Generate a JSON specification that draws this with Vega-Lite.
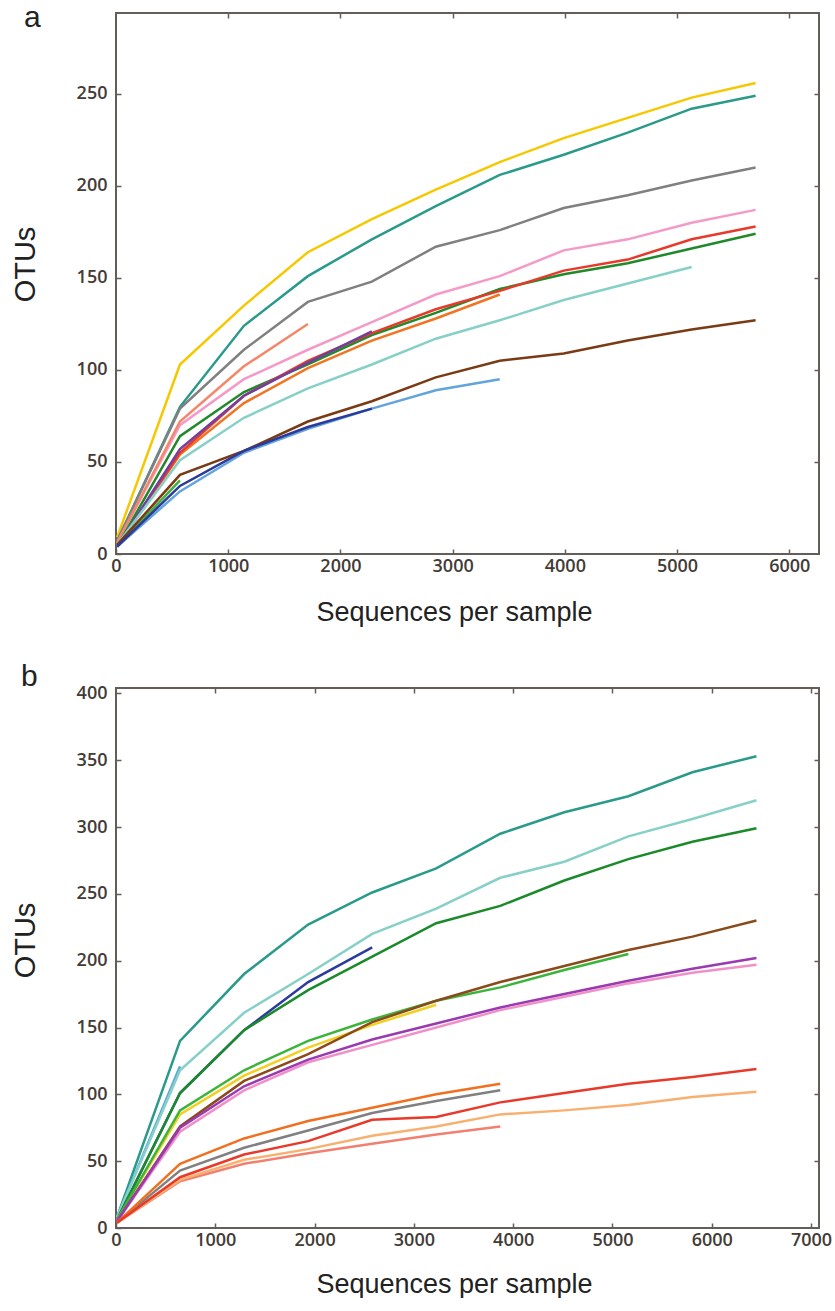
{
  "$schema": "https://vega.github.io/schema/vega-lite/v6.json",
  "padding": {"left": 10, "top": 2, "right": 0, "bottom": 0},
  "background": "white",
  "config": {
    "view": {"stroke": "#655d57", "strokeWidth": 2},
    "axis": {"domain": false, "grid": false, "tickColor": "#655d57", "tickWidth": 1.5, "tickSize": -5,
      "labelFont": "Open Sans", "labelFontSize": 18, "labelFontWeight": 600, "labelColor": "#433b36",
      "titleFont": "Liberation Sans", "titleFontSize": 27, "titleFontWeight": "normal", "titleColor": "#222222"},
    "title": {"font": "Liberation Sans", "fontSize": 30, "fontWeight": "normal", "color": "#222222"}
  },
  "datasets": {
    "a": [
      {"s":"yellow","x":10,"y":9},{"s":"yellow","x":570,"y":103},{"s":"yellow","x":1140,"y":135},{"s":"yellow","x":1710,"y":164},{"s":"yellow","x":2280,"y":182},{"s":"yellow","x":2850,"y":198},{"s":"yellow","x":3420,"y":213},{"s":"yellow","x":3990,"y":226},{"s":"yellow","x":4560,"y":237},{"s":"yellow","x":5130,"y":248},{"s":"yellow","x":5700,"y":256},
      {"s":"teal","x":10,"y":7},{"s":"teal","x":570,"y":80},{"s":"teal","x":1140,"y":124},{"s":"teal","x":1710,"y":151},{"s":"teal","x":2280,"y":171},{"s":"teal","x":2850,"y":189},{"s":"teal","x":3420,"y":206},{"s":"teal","x":3990,"y":217},{"s":"teal","x":4560,"y":229},{"s":"teal","x":5130,"y":242},{"s":"teal","x":5700,"y":249},
      {"s":"gray","x":10,"y":7},{"s":"gray","x":570,"y":79},{"s":"gray","x":1140,"y":111},{"s":"gray","x":1710,"y":137},{"s":"gray","x":2280,"y":148},{"s":"gray","x":2850,"y":167},{"s":"gray","x":3420,"y":176},{"s":"gray","x":3990,"y":188},{"s":"gray","x":4560,"y":195},{"s":"gray","x":5130,"y":203},{"s":"gray","x":5700,"y":210},
      {"s":"pink","x":10,"y":6},{"s":"pink","x":570,"y":70},{"s":"pink","x":1140,"y":95},{"s":"pink","x":1710,"y":111},{"s":"pink","x":2280,"y":126},{"s":"pink","x":2850,"y":141},{"s":"pink","x":3420,"y":151},{"s":"pink","x":3990,"y":165},{"s":"pink","x":4560,"y":171},{"s":"pink","x":5130,"y":180},{"s":"pink","x":5700,"y":187},
      {"s":"salmon","x":10,"y":6},{"s":"salmon","x":570,"y":72},{"s":"salmon","x":1140,"y":102},{"s":"salmon","x":1710,"y":125},
      {"s":"orange","x":10,"y":4},{"s":"orange","x":570,"y":54},{"s":"orange","x":1140,"y":82},{"s":"orange","x":1710,"y":101},{"s":"orange","x":2280,"y":116},{"s":"orange","x":2850,"y":128},{"s":"orange","x":3420,"y":141},
      {"s":"green","x":10,"y":4},{"s":"green","x":570,"y":64},{"s":"green","x":1140,"y":88},{"s":"green","x":1710,"y":103},{"s":"green","x":2280,"y":119},{"s":"green","x":2850,"y":131},{"s":"green","x":3420,"y":144},{"s":"green","x":3990,"y":152},{"s":"green","x":4560,"y":158},{"s":"green","x":5130,"y":166},{"s":"green","x":5700,"y":174},
      {"s":"red","x":10,"y":4},{"s":"red","x":570,"y":55},{"s":"red","x":1140,"y":86},{"s":"red","x":1710,"y":105},{"s":"red","x":2280,"y":120},{"s":"red","x":2850,"y":133},{"s":"red","x":3420,"y":143},{"s":"red","x":3990,"y":154},{"s":"red","x":4560,"y":160},{"s":"red","x":5130,"y":171},{"s":"red","x":5700,"y":178},
      {"s":"purple","x":10,"y":4},{"s":"purple","x":570,"y":57},{"s":"purple","x":1140,"y":86},{"s":"purple","x":1710,"y":104},{"s":"purple","x":2280,"y":121},
      {"s":"lightteal","x":10,"y":5},{"s":"lightteal","x":570,"y":51},{"s":"lightteal","x":1140,"y":74},{"s":"lightteal","x":1710,"y":90},{"s":"lightteal","x":2280,"y":103},{"s":"lightteal","x":2850,"y":117},{"s":"lightteal","x":3420,"y":127},{"s":"lightteal","x":3990,"y":138},{"s":"lightteal","x":4560,"y":147},{"s":"lightteal","x":5130,"y":156},
      {"s":"lightgreen","x":10,"y":4},{"s":"lightgreen","x":570,"y":40},
      {"s":"lightblue","x":10,"y":4},{"s":"lightblue","x":570,"y":34},{"s":"lightblue","x":1140,"y":55},{"s":"lightblue","x":1710,"y":68},{"s":"lightblue","x":2280,"y":79},{"s":"lightblue","x":2850,"y":89},{"s":"lightblue","x":3420,"y":95},
      {"s":"brown","x":10,"y":5},{"s":"brown","x":570,"y":43},{"s":"brown","x":1140,"y":56},{"s":"brown","x":1710,"y":72},{"s":"brown","x":2280,"y":83},{"s":"brown","x":2850,"y":96},{"s":"brown","x":3420,"y":105},{"s":"brown","x":3990,"y":109},{"s":"brown","x":4560,"y":116},{"s":"brown","x":5130,"y":122},{"s":"brown","x":5700,"y":127},
      {"s":"navy","x":10,"y":4},{"s":"navy","x":570,"y":37},{"s":"navy","x":1140,"y":56},{"s":"navy","x":1710,"y":69},{"s":"navy","x":2280,"y":79}
    ],
    "b": [
      {"s":"teal","x":10,"y":8},{"s":"teal","x":645,"y":140},{"s":"teal","x":1290,"y":190},{"s":"teal","x":1935,"y":227},{"s":"teal","x":2580,"y":251},{"s":"teal","x":3225,"y":269},{"s":"teal","x":3870,"y":295},{"s":"teal","x":4515,"y":311},{"s":"teal","x":5160,"y":323},{"s":"teal","x":5805,"y":341},{"s":"teal","x":6450,"y":353},
      {"s":"lightblue","x":10,"y":8},{"s":"lightblue","x":645,"y":121},
      {"s":"lightteal","x":10,"y":8},{"s":"lightteal","x":645,"y":118},{"s":"lightteal","x":1290,"y":161},{"s":"lightteal","x":1935,"y":190},{"s":"lightteal","x":2580,"y":220},{"s":"lightteal","x":3225,"y":239},{"s":"lightteal","x":3870,"y":262},{"s":"lightteal","x":4515,"y":274},{"s":"lightteal","x":5160,"y":293},{"s":"lightteal","x":5805,"y":306},{"s":"lightteal","x":6450,"y":320},
      {"s":"navy","x":10,"y":6},{"s":"navy","x":645,"y":101},{"s":"navy","x":1290,"y":148},{"s":"navy","x":1935,"y":184},{"s":"navy","x":2580,"y":210},
      {"s":"green","x":10,"y":6},{"s":"green","x":645,"y":101},{"s":"green","x":1290,"y":148},{"s":"green","x":1935,"y":178},{"s":"green","x":2580,"y":203},{"s":"green","x":3225,"y":228},{"s":"green","x":3870,"y":241},{"s":"green","x":4515,"y":260},{"s":"green","x":5160,"y":276},{"s":"green","x":5805,"y":289},{"s":"green","x":6450,"y":299},
      {"s":"yellow","x":10,"y":6},{"s":"yellow","x":645,"y":85},{"s":"yellow","x":1290,"y":114},{"s":"yellow","x":1935,"y":135},{"s":"yellow","x":2580,"y":152},{"s":"yellow","x":3225,"y":167},
      {"s":"lightgreen","x":10,"y":6},{"s":"lightgreen","x":645,"y":88},{"s":"lightgreen","x":1290,"y":118},{"s":"lightgreen","x":1935,"y":140},{"s":"lightgreen","x":2580,"y":156},{"s":"lightgreen","x":3225,"y":170},{"s":"lightgreen","x":3870,"y":180},{"s":"lightgreen","x":4515,"y":193},{"s":"lightgreen","x":5160,"y":205},
      {"s":"brown","x":10,"y":5},{"s":"brown","x":645,"y":76},{"s":"brown","x":1290,"y":110},{"s":"brown","x":1935,"y":130},{"s":"brown","x":2580,"y":154},{"s":"brown","x":3225,"y":170},{"s":"brown","x":3870,"y":184},{"s":"brown","x":4515,"y":196},{"s":"brown","x":5160,"y":208},{"s":"brown","x":5805,"y":218},{"s":"brown","x":6450,"y":230},
      {"s":"pink","x":10,"y":5},{"s":"pink","x":645,"y":72},{"s":"pink","x":1290,"y":103},{"s":"pink","x":1935,"y":124},{"s":"pink","x":2580,"y":137},{"s":"pink","x":3225,"y":150},{"s":"pink","x":3870,"y":163},{"s":"pink","x":4515,"y":173},{"s":"pink","x":5160,"y":183},{"s":"pink","x":5805,"y":191},{"s":"pink","x":6450,"y":197},
      {"s":"purple","x":10,"y":5},{"s":"purple","x":645,"y":75},{"s":"purple","x":1290,"y":106},{"s":"purple","x":1935,"y":126},{"s":"purple","x":2580,"y":141},{"s":"purple","x":3225,"y":153},{"s":"purple","x":3870,"y":165},{"s":"purple","x":4515,"y":175},{"s":"purple","x":5160,"y":185},{"s":"purple","x":5805,"y":194},{"s":"purple","x":6450,"y":202},
      {"s":"salmon","x":10,"y":4},{"s":"salmon","x":645,"y":35},{"s":"salmon","x":1290,"y":48},{"s":"salmon","x":1935,"y":56},{"s":"salmon","x":2580,"y":63},{"s":"salmon","x":3225,"y":70},{"s":"salmon","x":3870,"y":76},
      {"s":"lightorange","x":10,"y":4},{"s":"lightorange","x":645,"y":36},{"s":"lightorange","x":1290,"y":51},{"s":"lightorange","x":1935,"y":59},{"s":"lightorange","x":2580,"y":69},{"s":"lightorange","x":3225,"y":76},{"s":"lightorange","x":3870,"y":85},{"s":"lightorange","x":4515,"y":88},{"s":"lightorange","x":5160,"y":92},{"s":"lightorange","x":5805,"y":98},{"s":"lightorange","x":6450,"y":102},
      {"s":"gray","x":10,"y":4},{"s":"gray","x":645,"y":43},{"s":"gray","x":1290,"y":60},{"s":"gray","x":1935,"y":73},{"s":"gray","x":2580,"y":86},{"s":"gray","x":3225,"y":95},{"s":"gray","x":3870,"y":103},
      {"s":"orange","x":10,"y":4},{"s":"orange","x":645,"y":48},{"s":"orange","x":1290,"y":67},{"s":"orange","x":1935,"y":80},{"s":"orange","x":2580,"y":90},{"s":"orange","x":3225,"y":100},{"s":"orange","x":3870,"y":108},
      {"s":"red","x":10,"y":4},{"s":"red","x":645,"y":38},{"s":"red","x":1290,"y":55},{"s":"red","x":1935,"y":65},{"s":"red","x":2580,"y":81},{"s":"red","x":3225,"y":83},{"s":"red","x":3870,"y":94},{"s":"red","x":4515,"y":101},{"s":"red","x":5160,"y":108},{"s":"red","x":5805,"y":113},{"s":"red","x":6450,"y":119}
    ]
  },
  "spacing": 35,
  "vconcat": [
    {
      "width": 703, "height": 541,
      "title": {"text": "a", "anchor": "start", "frame": "group", "dx": -92, "offset": -45, "baseline": "alphabetic"},
      "data": {"name": "a"},
      "layer": [
        {
          "mark": {"type": "line", "strokeWidth": 2.5, "clip": true},
          "encoding": {
            "x": {"field": "x", "type": "quantitative", "scale": {"domain": [0, 6265], "nice": false, "zero": false},
              "axis": {"values": [0, 1000, 2000, 3000, 4000, 5000, 6000], "format": "d", "labelPadding": 8, "labelFlush": false,
                "title": "Sequences per sample", "titleX": 338, "titleY": 66, "titleBaseline": "alphabetic", "titleAlign": "center"}},
            "y": {"field": "y", "type": "quantitative", "scale": {"domain": [0, 294], "nice": false},
              "axis": {"values": [0, 50, 100, 150, 200, 250], "labelPadding": 14, "title": "OTUs", "titleX": -82, "titleY": 251,
                "titleAngle": -90, "titleBaseline": "alphabetic", "titleAlign": "center", "titleFontSize": 29}},
            "color": {"field": "s", "type": "nominal", "legend": null,
              "scale": {"domain": ["yellow","teal","gray","pink","salmon","orange","green","red","purple","lightteal","lightgreen","lightblue","brown","navy"],
                "range": ["#f5c800","#2a9a8a","#808080","#f49ac8","#f4876a","#f07422","#208a2a","#e8392a","#7040a0","#86d0c8","#40b040","#64a4dc","#7a3a14","#2c3a9a"]}}
          }
        },
        {
          "mark": {"type": "point", "opacity": 0},
          "encoding": {
            "x": {"field": "x", "type": "quantitative", "scale": {"domain": [0, 6265], "nice": false, "zero": false},
              "axis": {"orient": "top", "values": [1000, 2000, 3000, 4000, 5000, 6000], "labels": false, "title": null}},
            "y": {"field": "y", "type": "quantitative", "scale": {"domain": [0, 294], "nice": false},
              "axis": {"orient": "right", "values": [50, 100, 150, 200, 250], "labels": false, "title": null}}
          }
        }
      ],
      "resolve": {"axis": {"x": "independent", "y": "independent"}}
    },
    {
      "width": 703, "height": 540,
      "title": {"text": "b", "anchor": "start", "frame": "group", "dx": -95, "offset": -32, "baseline": "alphabetic"},
      "data": {"name": "b"},
      "layer": [
        {
          "mark": {"type": "line", "strokeWidth": 2.5, "clip": true},
          "encoding": {
            "x": {"field": "x", "type": "quantitative", "scale": {"domain": [0, 7080], "nice": false, "zero": false},
              "axis": {"values": [0, 1000, 2000, 3000, 4000, 5000, 6000, 7000], "format": "d", "labelPadding": 8, "labelFlush": false,
                "title": "Sequences per sample", "titleX": 338, "titleY": 64, "titleBaseline": "alphabetic", "titleAlign": "center"}},
            "y": {"field": "y", "type": "quantitative", "scale": {"domain": [0, 404], "nice": false},
              "axis": {"values": [0, 50, 100, 150, 200, 250, 300, 350, 400], "labelPadding": 14, "title": "OTUs", "titleX": -82, "titleY": 252,
                "titleAngle": -90, "titleBaseline": "alphabetic", "titleAlign": "center", "titleFontSize": 29}},
            "color": {"field": "s", "type": "nominal", "legend": null,
              "scale": {"domain": ["teal","lightblue","lightteal","navy","green","yellow","lightgreen","brown","pink","purple","salmon","lightorange","gray","orange","red"],
                "range": ["#2a9a8a","#5aa8dc","#86d0c8","#2c3aa0","#1a8a2a","#f0d020","#3cb43c","#8a4a1a","#f090c8","#9a3ab0","#f08070","#f8b070","#808080","#f07020","#e83a2a"]}}
          }
        },
        {
          "mark": {"type": "point", "opacity": 0},
          "encoding": {
            "x": {"field": "x", "type": "quantitative", "scale": {"domain": [0, 7080], "nice": false, "zero": false},
              "axis": {"orient": "top", "values": [1000, 2000, 3000, 4000, 5000, 6000, 7000], "labels": false, "title": null}},
            "y": {"field": "y", "type": "quantitative", "scale": {"domain": [0, 404], "nice": false},
              "axis": {"orient": "right", "values": [50, 100, 150, 200, 250, 300, 350, 400], "labels": false, "title": null}}
          }
        }
      ],
      "resolve": {"axis": {"x": "independent", "y": "independent"}}
    }
  ],
  "resolve": {"scale": {"color": "independent", "x": "independent", "y": "independent"}}
}
